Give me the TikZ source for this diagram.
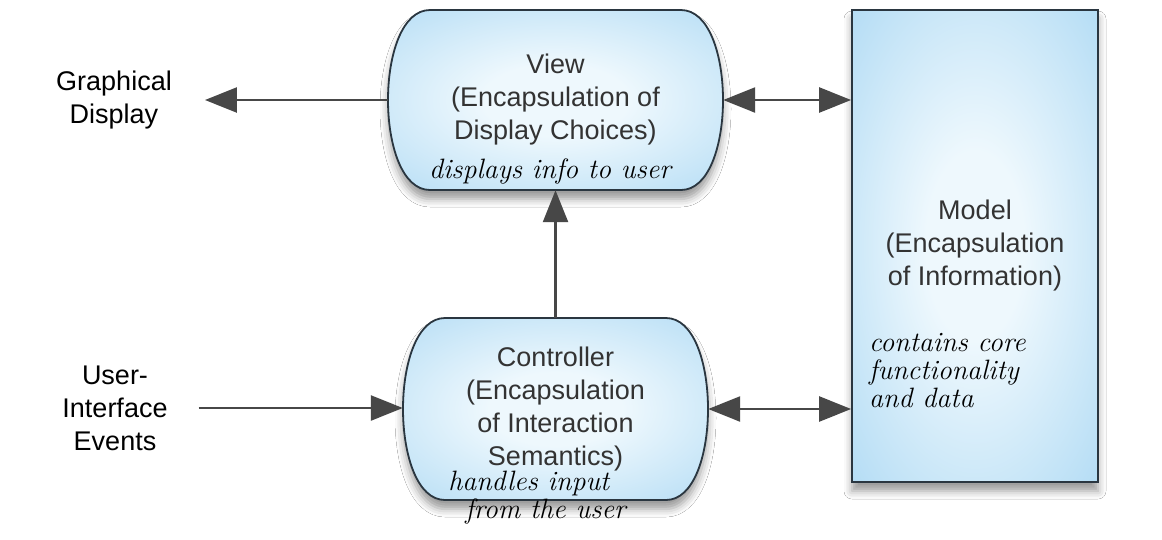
\documentclass[tikz,border=0pt]{standalone}
\usepackage{fontspec}
\setmainfont{Liberation Sans}
\usetikzlibrary{arrows.meta,shadows.blur}

\definecolor{boxblue}{HTML}{AFDAF4}
\definecolor{boxcenter}{HTML}{EEF8FD}
\definecolor{edgecol}{HTML}{2A3640}
\definecolor{arrcol}{HTML}{474747}
\definecolor{txtcol}{HTML}{333333}

\pgfdeclareradialshading{softblue}{\pgfpoint{0bp}{0bp}}{%
  color(0bp)=(boxcenter); color(10bp)=(boxcenter);
  color(38bp)=(boxblue); color(71bp)=(boxblue)}

\tikzset{
  pillfill/.style={draw=edgecol, line width=1.8pt, shading=softblue,
    blur shadow={shadow xshift=0pt, shadow yshift=-9pt, shadow blur radius=8pt, shadow opacity=40}},
  anchorbox/.style={rectangle, inner sep=0pt, align=center,
    font=\fontsize{27}{33}\selectfont, text=txtcol},
  modelbox/.style={rectangle, draw=edgecol, line width=1.8pt, shading=softblue,
    inner sep=0pt, align=center, font=\fontsize{27}{33}\selectfont, text=txtcol,
    blur shadow={shadow xshift=0pt, shadow yshift=-9pt, shadow blur radius=8pt, shadow opacity=40}},
  sidelbl/.style={align=center, font=\fontsize{27}{33}\selectfont, text=black, inner sep=3pt},
  note/.style={font=\fontfamily{lmr}\fontsize{28}{28}\selectfont\itshape, text=black, inner sep=0pt},
  conn/.style={draw=arrcol, line width=2.5pt, -{Triangle[length=32pt,width=25pt]}},
  bconn/.style={draw=arrcol, line width=2.5pt,
    {Triangle[length=32pt,width=25pt]}-{Triangle[length=32pt,width=25pt]}},
}

\begin{document}
\begin{tikzpicture}[x=1pt,y=-1pt]
\fill[white] (0,0) rectangle (1162,539);
\useasboundingbox (0,0) rectangle (1162,539);

% View shape
\path[pillfill] (430,10) -- (681,10) .. controls (737,10) and (737,190) .. (681,190)
  -- (430,190) .. controls (374,190) and (374,10) .. (430,10) -- cycle;
% Controller shape
\path[pillfill] (445,318) -- (666,318) .. controls (722,318) and (722,500) .. (666,500)
  -- (445,500) .. controls (389,500) and (389,318) .. (445,318) -- cycle;

\node[anchorbox, minimum width=335pt, minimum height=180pt] (view) at (555.5,100)
  {View\\(Encapsulation of\\Display Choices)};
\node[anchorbox, minimum width=305pt, minimum height=182pt] (ctrl) at (555.5,409)
  {Controller\\(Encapsulation\\of Interaction\\Semantics)};
\node[modelbox, minimum width=246pt, minimum height=472pt] (model) at (975,246)
  {Model\\(Encapsulation\\of Information)};

\node[sidelbl] (gdisp) at (114,100) {Graphical\\Display};
\node[sidelbl] (uievents) at (115,408) {User-\\Interface\\Events};

\node[note] (viewnote) at (550,171) {displays info to user};
\node[note, align=left] (ctrlnote) at (537,498) {handles input\\\hspace*{17pt}from the user};
\node[note, align=left, anchor=west] (modelnote) at (869,371) {contains core\\functionality\\and data};

\draw[conn, shorten >=30pt] (view.west) -- (view.west -| gdisp.east);
\draw[conn, shorten <=28pt] (uievents.east) -- (uievents.east -| ctrl.west);
\draw[conn] (ctrl.north) -- (view.south);
\draw[bconn] (view.east) -- (view.east -| model.west);
\draw[bconn] (ctrl.east) -- (ctrl.east -| model.west);
\end{tikzpicture}
\end{document}
